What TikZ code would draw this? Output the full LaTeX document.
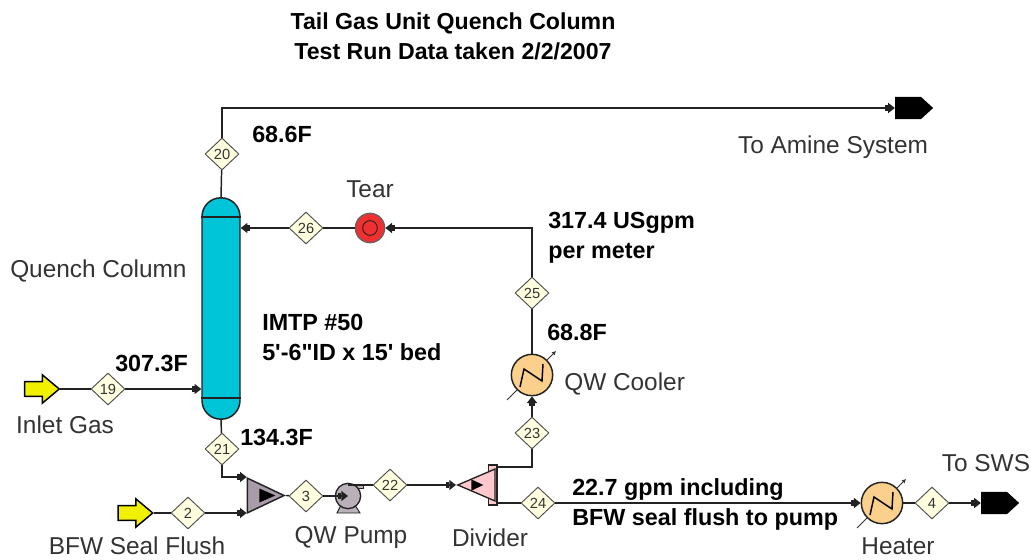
\documentclass[tikz,border=0pt]{standalone}
\usepackage{fontspec}
\setmainfont{Liberation Sans}
\newfontfamily\plainf{Liberation Sans}
\usepackage{xcolor}
\usepackage{tikz}
\usetikzlibrary{positioning,arrows.meta,calc,shapes.geometric,shapes.arrows}
\definecolor{ncol}{HTML}{00C4D8}
\definecolor{nheat}{HTML}{FAD08C}
\definecolor{nmix}{HTML}{A89CA8}
\definecolor{ndiv}{HTML}{FFC8CC}
\definecolor{nfeed}{HTML}{F0F000}
\definecolor{nstr}{HTML}{FFFFE0}
\definecolor{ntear}{HTML}{F03030}
\definecolor{nline}{HTML}{222222}
\definecolor{ntxt}{HTML}{333333}
\tikzset{
  hxz/.pic={
    \draw[line width=1.1pt] (-12,12) -- (-8,-6) -- (10,6) -- (11,-11);
    \draw[ntxt, line width=.7pt] (-25,25) -- (-15,15);
    \draw[ntxt, line width=.7pt, -{Latex[length=3pt,width=3.5pt]}] (15,-15) -- (24,-24);
  }
}
\begin{document}
\begin{tikzpicture}[x=.75pt, y=-.75pt,
   >={Square[length=2.2pt,width=4.6pt]Triangle[length=5pt,width=7.5pt]},
   s/.style={nline, line width=1.1pt},
   d/.style={diamond, draw=nline!80, fill=nstr, line width=.7pt, inner sep=0pt, minimum width=25.5pt, minimum height=24pt, text=ntxt, font=\fontsize{11}{11}\selectfont},
   lbl/.style={text=ntxt, inner sep=0pt, font=\fontsize{18.3}{21}\selectfont},
   val/.style={text=black, inner sep=0pt, align=left, font=\fontsize{17.5}{22.5}\selectfont\bfseries},
   hx/.style={circle, draw=nline, fill=nheat, line width=1.1pt, inner sep=0pt, minimum size=31pt},
   tri/.style={isosceles triangle, isosceles triangle stretches, inner sep=0pt, anchor=apex},
   feed/.style={single arrow, draw=black, fill=nfeed, line width=1.1pt, inner xsep=0pt, inner ysep=5pt, minimum height=26pt, minimum width=20pt, single arrow head extend=5pt, single arrow tip angle=80, single arrow head indent=0pt},
   prod/.style={single arrow, fill=black, inner xsep=0pt, inner ysep=8.2pt, minimum height=28.5pt, minimum width=16.5pt, single arrow head extend=0pt, single arrow tip angle=85, single arrow head indent=0pt}]
  \useasboundingbox (0,0) rectangle (1031,560);
  \node[font=\fontsize{17.35}{22.5}\selectfont\bfseries, align=center] (title) at (453,36) {Tail Gas Unit Quench Column\\Test Run Data taken 2/2/2007};

  % column and tear
  \node[rectangle, draw=nline, fill=ncol, line width=1.1pt, rounded corners=14pt, inner sep=0pt, minimum width=28.5pt, minimum height=166pt] (col) at (221,308.5) {};
  \draw[s] ($(col.north west)+(0,20)$) -- ($(col.north east)+(0,20)$);
  \draw[s] ($(col.south west)+(0,-22)$) -- ($(col.south east)+(0,-22)$);
  \node[circle, draw=nline!70, fill=ntear, line width=1pt, inner sep=0pt, minimum size=22pt] (tear) at (370,228) {};
  \draw[nline, line width=.7pt] (tear) circle[radius=5.5pt];
  \node[d] (d20) at (222,154) {20};
  \node[d] (d26) at (306,228) {26};
  \node[d] (d25) at (532,293) {25};
  \node[d] (d23) at (532,433) {23};
  \node[d] (d19) at (108,389) {19};
  \node[d] (d21) at (222,449) {21};
  \node[d] (d2) at (188,513) {2};
  \node[d] (d3) at (306,496) {3};
  \node[d] (d22) at (390,485) {22};
  \node[d] (d24) at (538,503) {24};
  \node[d] (d4) at (932,503) {4};

  % units
  \node[hx] (cool) at (532,375) {};
  \pic at (cool) {hxz};
  \node[hx] (heat) at (882,503) {};
  \pic at (heat) {hxz};
  \node[tri, draw=nline, fill=nmix, line width=1.1pt, minimum width=26pt, minimum height=27.5pt] (mix) at (286,495.5) {};
  \node[tri, fill=black, minimum width=10.5pt, minimum height=12pt] (mixa) at (276,495.5) {};
  \node[rectangle, draw=nline, fill=ndiv, line width=1pt, inner sep=0pt, minimum width=6.5pt, minimum height=30pt] (divb) at (492.5,485) {};
  \node[tri, shape border rotate=180, draw=nline, fill=ndiv, line width=1pt, minimum width=24pt, minimum height=28pt] (div) at (456,485) {};
  \node[tri, fill=black, minimum width=8.5pt, minimum height=9pt] (diva) at (484,485) {};
  \draw[nline, fill=nmix!80, line width=.7pt] (337,513) -- (341,505) -- (355,505) -- (360,513) -- cycle;
  \draw[nline, fill=nmix!80, line width=.7pt] (348,484) rectangle (363,488);
  \node[circle, draw=nline, fill=nmix!80, line width=1pt, inner sep=0pt, minimum size=19pt] (pump) at (348,496) {};
  \node[feed] (in19) at (37.5,389) {};
  \node[feed] (in2) at (131,513) {};
  \node[prod] (out1) at (908,108) {};
  \node[prod] (out2) at (994,503) {};

  % streams
  \draw[s] (col.north) -- (d20);
  \draw[s,->] (d20) |- (out1.west);
  \draw[s] (tear) -- (d26);
  \draw[s,->] (d26) -- (d26 -| col.east);
  \draw[s,->] (d25) |- (tear);
  \draw[s] (d25) -- (cool);
  \draw[s,->] (d23) -- (cool);
  \draw[s] (divb.east |- 0,467) -| (d23);
  \draw[s] (in19) -- (d19);
  \draw[s,->] (d19) -- (d19 -| col.west);
  \draw[s] (col.south) -- (d21);
  \draw[s,->] (d21) |- (mix.left corner);
  \draw[s] (in2) -- (d2);
  \draw[s,->] (d2) -- (d2 -| mix.west);
  \draw[s] (mix.apex) -- (d3);
  \draw[s,->] (d3) -- (pump.center);
  \draw[s] (pump.center |- d22) -- (d22);
  \draw[s,->] (d22) -- (div.apex);
  \draw[s] (divb.east |- d24) -- (d24);
  \draw[s,->] (d24) -- (heat);
  \draw[s] (heat) -- (d4);
  \draw[s,->] (d4) -- (out2.west);

  % labels
  \node[lbl, anchor=west] (lqc) at (10,271) {Quench Column};
  \node[lbl, above=11pt of tear] (ltear) {Tear};
  \node[lbl] (lam) at (833,147) {To Amine System};
  \node[lbl, anchor=west] (lcool) at (564,384) {QW Cooler};
  \node[lbl] (lin) at (65,425) {Inlet Gas};
  \node[lbl] (lbfw) at (137,546) {BFW Seal Flush};
  \node[lbl] (lpump) at (351,538) {QW Pump};
  \node[lbl] (ldiv) at (490,538) {Divider};
  \node[lbl] (lheat) at (898,546) {Heater};
  \node[lbl] (lsws) at (986,463) {To SWS};
  \node[val, anchor=west] (v20) at (252,134) {68.6F};
  \node[val, anchor=west] (v19) at (115,363) {307.3F};
  \node[val, anchor=west] (v21) at (240,437) {134.3F};
  \node[val, anchor=west] (v25) at (547,332) {68.8F};
  \node[val, anchor=west] (vflow) at (548,238) {317.4 USgpm\\per meter};
  \node[val, anchor=west] (vbed) at (262,337) {IMTP \#50\\\plainf 5'-6"ID x 15' bed};
  \node[val, anchor=west] (vflush) at (572,504) {22.7 gpm including\\BFW seal flush to pump};
\end{tikzpicture}
\end{document}
